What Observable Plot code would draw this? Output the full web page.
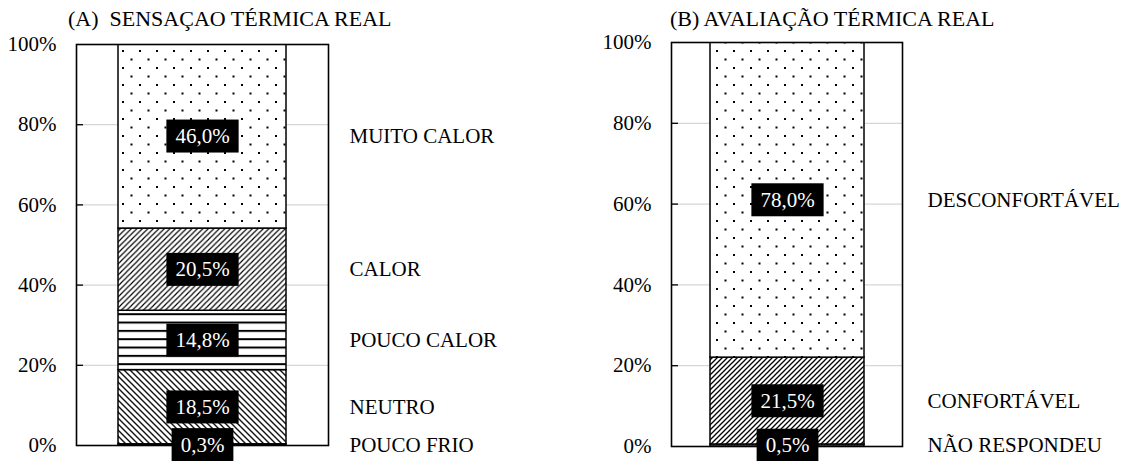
<!DOCTYPE html>
<html><head><meta charset="utf-8">
<script src="https://cdn.jsdelivr.net/npm/d3@7"></script>
<script src="https://cdn.jsdelivr.net/npm/@observablehq/plot@0.6"></script>
<style>
body{margin:0;background:#fff;font-family:"Liberation Serif","Times New Roman",serif;}
#wrap{position:relative;width:1133px;height:461px;overflow:hidden;background:#fff;}
.title{position:absolute;top:7px;font-size:22px;line-height:24px;white-space:pre;color:#000;}
.panel{position:absolute;top:30px;}
</style></head><body>
<svg width="0" height="0" style="position:absolute;left:0;top:0">
<defs>
 <pattern id="pDots" patternUnits="userSpaceOnUse" width="17" height="17">
   <rect width="17" height="17" fill="white"/>
   <rect x="3" y="3" width="2" height="2" fill="black"/>
   <rect x="11.5" y="11.5" width="2" height="2" fill="black"/>
 </pattern>
 <pattern id="pUp" patternUnits="userSpaceOnUse" width="5.5" height="5.5">
   <rect width="5.5" height="5.5" fill="white"/>
   <path d="M0,5.5 L5.5,0 M-1,1 L1,-1 M4.5,6.5 L6.5,4.5" stroke="#000" stroke-width="1.15"/>
 </pattern>
 <pattern id="pUp2" patternUnits="userSpaceOnUse" width="5" height="5">
   <rect width="5" height="5" fill="white"/>
   <path d="M0,5 L5,0 M-1,1 L1,-1 M4,6 L6,4" stroke="#000" stroke-width="1.3"/>
 </pattern>
 <pattern id="pDown" patternUnits="userSpaceOnUse" width="6" height="6">
   <rect width="6" height="6" fill="white"/>
   <path d="M0,0 L6,6 M-1,5 L1,7 M5,-1 L7,1" stroke="#111" stroke-width="1.4"/>
 </pattern>
 <pattern id="pHoriz" patternUnits="userSpaceOnUse" width="10" height="8.33">
   <rect width="10" height="8.33" fill="white"/>
   <rect x="0" y="0" width="10" height="2" fill="black"/>
 </pattern>
 <pattern id="pFine" patternUnits="userSpaceOnUse" width="3" height="3">
   <rect width="3" height="3" fill="white"/>
   <rect x="0" y="0" width="1.2" height="1.2" fill="black"/>
 </pattern>
</defs>
</svg>
<div id="wrap"></div>
<script>
// ---- data ----
const categoriesA = ["POUCO FRIO", "NEUTRO", "POUCO CALOR", "CALOR", "MUITO CALOR"];
const valuesA = [0.3, 18.5, 14.8, 20.5, 46.0];
const categoriesB = ["NÃO RESPONDEU", "CONFORTÁVEL", "DESCONFORTÁVEL"];
const valuesB = [0.5, 21.5, 78.0];
const yTicks = [0, 20, 40, 60, 80, 100];
const titleA = "(A)  SENSAÇAO TÉRMICA REAL";
const titleB = "(B) AVALIAÇÃO TÉRMICA REAL";

// ---- styles (pattern fills per category) ----
const patternsA = ["url(#pFine)", "url(#pDown)", "url(#pHoriz)", "url(#pUp)", "url(#pDots)"];
const patternsB = ["url(#pFine)", "url(#pUp2)", "url(#pDots)"];

const fmt = v => v.toFixed(1).replace(".", ",") + "%";
const wrap = document.getElementById("wrap");

function panel({cats, vals, pats, title, left, width, mL, mR, mT, mB, titleLeft, labelDx}) {
  const rows = cats.map((c, i) => ({cat: c, value: vals[i]}));
  const height = 431;
  const innerW = width - mL - mR;
  const plot = Plot.plot({
    width, height,
    marginLeft: mL, marginRight: mR, marginTop: mT, marginBottom: mB,
    style: {fontFamily: "'Liberation Serif','Times New Roman',serif", fontSize: "21px", color: "black", background: "white"},
    x: {axis: null, domain: ["A"], paddingInner: 0, paddingOuter: 0.25},
    y: {domain: [0, 100], ticks: yTicks, tickFormat: d => d + "%", tickSize: 0, tickPadding: 20, label: null},
    color: {domain: cats, range: pats},
    marks: [
      Plot.ruleY(yTicks.filter(v => v > 0 && v < 100), {stroke: "#d6d6d6", strokeWidth: 1.2}),
      Plot.ruleY(yTicks.filter(v => v > 0 && v < 100), {stroke: "black", strokeWidth: 1.3, insetRight: innerW - 7}),
      Plot.barY(rows, {x: () => "A", y: "value", fill: "cat", stroke: "black", strokeWidth: 1.5, clip: true}),
      Plot.frame({stroke: "black", strokeWidth: 1.6}),
      Plot.text(rows, Plot.stackY({x: () => "A", y: "value", text: d => fmt(d.value), fill: "white", fontSize: 21})),
      Plot.text(rows, Plot.stackY({y: "value", text: "cat", frameAnchor: "right", textAnchor: "start", dx: labelDx, fill: "black", fontSize: 21}))
    ]
  });
  const holder = document.createElement("div");
  holder.className = "panel";
  holder.style.left = left + "px";
  holder.appendChild(plot);
  wrap.appendChild(holder);
  const t = document.createElement("div");
  t.className = "title";
  t.style.left = titleLeft + "px";
  t.textContent = title;
  wrap.appendChild(t);
  // black boxes behind value labels
  plot.querySelectorAll('g[aria-label="text"]').forEach(g => {
    if (g.getAttribute("fill") !== "white") return;
    g.querySelectorAll("text").forEach(tx => {
      const b = tx.getBBox();
      const r = document.createElementNS("http://www.w3.org/2000/svg", "rect");
      r.setAttribute("x", b.x - 9);
      r.setAttribute("y", b.y - 4.5);
      r.setAttribute("width", b.width + 18);
      r.setAttribute("height", b.height + 9);
      r.setAttribute("fill", "black");
      const tr = tx.getAttribute("transform");
      if (tr) r.setAttribute("transform", tr);
      g.insertBefore(r, tx);
    });
  });
}

panel({cats: categoriesA, vals: valuesA, pats: patternsA, title: titleA,
       left: 0, width: 560, mL: 76, mR: 232, mT: 14, mB: 16, titleLeft: 68, labelDx: 21});
panel({cats: categoriesB, vals: valuesB, pats: patternsB, title: titleB,
       left: 560, width: 573, mL: 111, mR: 231, mT: 12, mB: 15, titleLeft: 670, labelDx: 25});
</script>
</body></html>
